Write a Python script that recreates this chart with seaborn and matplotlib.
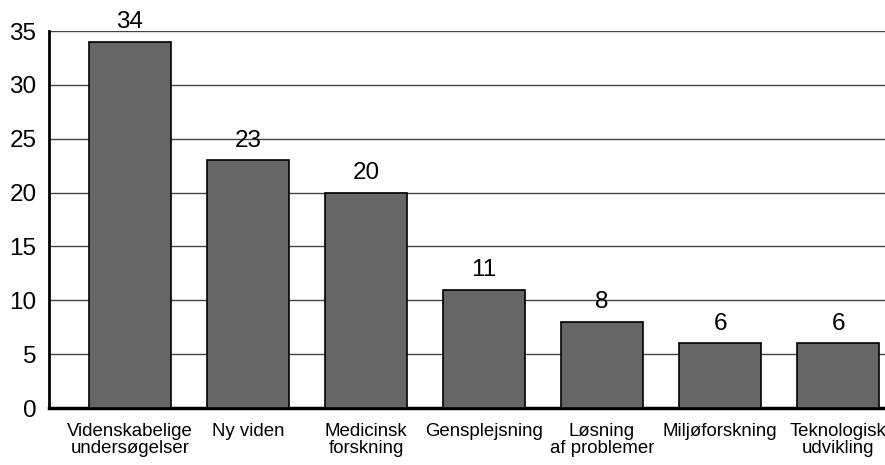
import matplotlib
matplotlib.use("Agg")
import matplotlib.pyplot as plt
import seaborn as sns
import pandas as pd

categories = ["Videnskabelige\nundersøgelser", "Ny viden", "Medicinsk\nforskning",
              "Gensplejsning", "Løsning\naf problemer", "Miljøforskning", "Teknologisk\nudvikling"]
values = [34, 23, 20, 11, 8, 6, 6]
yticks = [0, 5, 10, 15, 20, 25, 30, 35]

sns.set_theme(style="white")
plt.rcParams['font.family'] = ['Liberation Sans', 'DejaVu Sans']

df = pd.DataFrame({"cat": categories, "val": values})

fig = plt.figure(figsize=(8.85, 4.65), dpi=100)
ax = fig.add_axes([49/885, 1-408/465, 1-49/885, (408-31)/465])

sns.barplot(data=df, x="cat", y="val", color="#666666", saturation=1,
            width=0.695, edgecolor="black", linewidth=1.2, ax=ax, zorder=3)

ax.set_xlim(-0.686, 6.398)
ax.set_ylim(0, 35)
ax.set_yticks(yticks)
ax.yaxis.grid(True, color="#444444", linewidth=1.0, zorder=0)
ax.set_axisbelow(True)
ax.set_xlabel("")
ax.set_ylabel("")
for s in ["top", "right"]:
    ax.spines[s].set_visible(False)
ax.spines["left"].set_color("black")
ax.spines["left"].set_linewidth(2)
ax.spines["bottom"].set_color("black")
ax.spines["bottom"].set_linewidth(2.5)
ax.tick_params(axis="y", length=0, pad=9, labelsize=17.5, colors="black")
ax.tick_params(axis="x", length=0, pad=11, labelsize=13.4, colors="black")
for lbl in ax.get_xticklabels():
    lbl.set_linespacing(1.0)

for i, v in enumerate(values):
    ax.annotate(str(v), (i, v), xytext=(0, 6), textcoords="offset points",
                ha="center", va="bottom", fontsize=17.5, color="black")

fig.savefig("out.png", dpi=100)
